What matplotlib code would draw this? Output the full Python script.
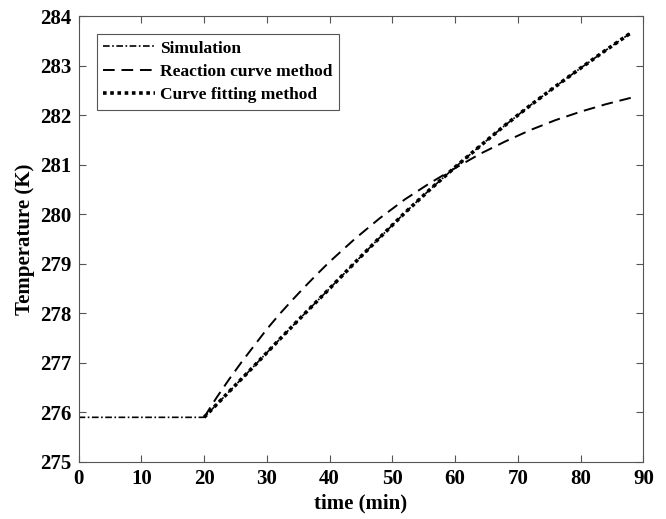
import matplotlib.pyplot as plt

# Simulated response: flat until the step at 20 min, then rising
sim_t = [0, 20, 24, 28, 32, 36, 40, 44, 48, 52, 56, 60, 64, 68, 72, 76, 80, 84, 88]
sim_T = [275.90, 275.90, 276.42, 276.94, 277.47, 277.99, 278.50, 279.02, 279.53,
         280.03, 280.50, 280.95, 281.38, 281.80, 282.20, 282.58, 282.95, 283.31, 283.66]

# First-order model from the reaction curve method
rc_t = [20, 22, 24, 26, 28, 30, 32, 34, 36, 38, 40, 44, 48, 52, 56, 60, 64, 68,
        72, 76, 80, 84, 88]
rc_T = [275.90, 276.30, 276.67, 277.02, 277.35, 277.68, 277.98, 278.26, 278.53,
        278.79, 279.04, 279.50, 279.92, 280.30, 280.63, 280.93, 281.22, 281.47,
        281.70, 281.90, 282.07, 282.22, 282.35]

# Model from the curve fitting method
cf_t = [20, 24, 28, 32, 36, 40, 44, 48, 52, 56, 60, 64, 68, 72, 76, 80, 84, 88]
cf_T = [275.90, 276.42, 276.94, 277.47, 277.99, 278.50, 279.02, 279.53, 280.03,
        280.50, 280.95, 281.38, 281.80, 282.20, 282.58, 282.95, 283.31, 283.66]

plt.rcParams['font.family'] = ['Liberation Serif', 'DejaVu Serif']
plt.rcParams['font.weight'] = 'bold'
plt.rcParams['axes.labelweight'] = 'bold'

fig = plt.figure(figsize=(6.66, 5.19), dpi=100)
ax = fig.add_axes([0.118, 0.110, 0.848, 0.859])

ax.plot(sim_t, sim_T, color='black', linestyle=(0, (4, 1.5, 1, 1.5)), linewidth=1.2,
        label='Simulation')
ax.plot(rc_t, rc_T, color='black', linestyle=(0, (6, 3.5)), linewidth=1.4,
        label='Reaction curve method')
ax.plot(cf_t, cf_T, color='black', linestyle=(0, (1, 1)), linewidth=2.6,
        label='Curve fitting method')

ax.set_xlim(0, 90)
ax.set_ylim(275, 284)
ax.set_xticks(range(0, 91, 10))
ax.set_yticks(range(275, 285))
ax.tick_params(direction='in', top=True, right=True, labelsize=15, length=5,
               color='#555555', width=0.8, pad=5)
for sp in ax.spines.values():
    sp.set_color('#555555')
    sp.set_linewidth(0.8)

ax.set_xlabel('time (min)', fontsize=15, labelpad=3)
ax.set_ylabel('Temperature (K)', fontsize=15, labelpad=4)

leg = ax.legend(loc='upper left', fontsize=12.5, fancybox=False, framealpha=1,
                edgecolor='#555555', handlelength=3.0, handletextpad=0.3,
                borderpad=0.35, labelspacing=0.42, borderaxespad=1.05)
leg.get_frame().set_linewidth(0.8)

fig.savefig('out.png', dpi=100)
